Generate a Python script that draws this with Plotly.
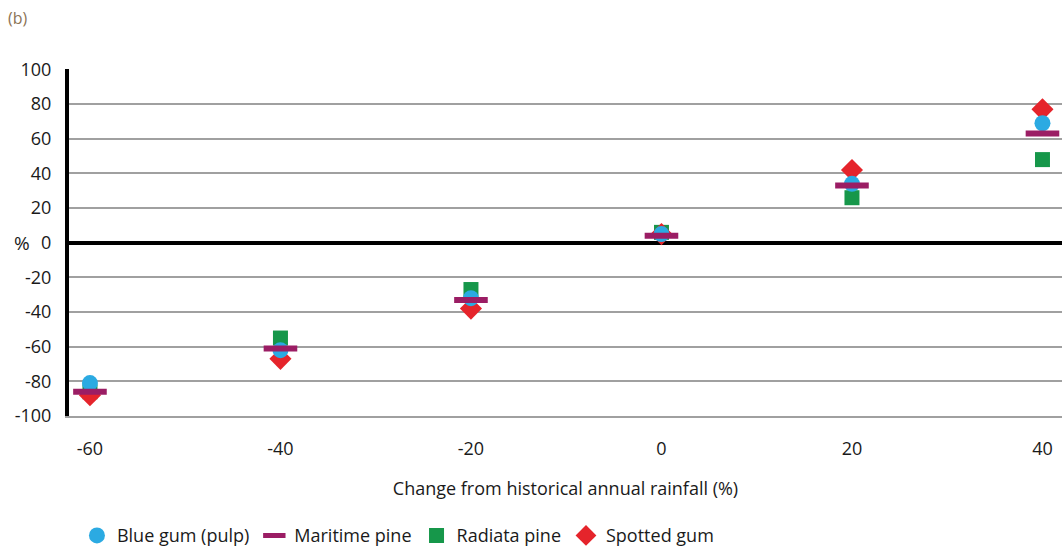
import plotly.graph_objects as go

rainfall_change = [-60, -40, -20, 0, 20, 40]
blue_gum = [-81, -62, -32, 5, 34, 69]
maritime_pine = [-86, -61, -33, 4, 33, 63]
radiata_pine = [-86, -55, -27, 6, 26, 48]
spotted_gum = [-88, -67, -38, 5, 42, 77]

y_ticks = [-100, -80, -60, -40, -20, 0, 20, 40, 60, 80, 100]
x_ticks = [-60, -40, -20, 0, 20, 40]

FONT = "Open Sans"
fig = go.Figure()

# draw order: square, diamond, bar, circle
fig.add_trace(go.Scatter(x=rainfall_change, y=radiata_pine, mode="markers", name="Radiata pine",
                         legendrank=3,
                         marker=dict(symbol="square", size=15, color="#16974A")))
fig.add_trace(go.Scatter(x=rainfall_change, y=spotted_gum, mode="markers", name="Spotted gum",
                         legendrank=4,
                         marker=dict(symbol="diamond", size=17, color="#E5242B")))
fig.add_trace(go.Scatter(x=rainfall_change, y=blue_gum, mode="markers", name="Blue gum (pulp)",
                         legendrank=1,
                         marker=dict(symbol="circle", size=16, color="#2BAAE2")))
fig.add_trace(go.Scatter(x=rainfall_change, y=maritime_pine, mode="markers", name="Maritime pine",
                         legendrank=2,
                         marker=dict(symbol="line-ew", size=24, color="#9B1D64",
                                     line=dict(width=6, color="#9B1D64"))))

fig.update_layout(
    width=1062, height=551,
    margin=dict(l=69, r=0, t=69, b=135, autoexpand=False),
    paper_bgcolor="white", plot_bgcolor="white",
    font=dict(family=FONT, size=18, color="#1a1a1a"),
    showlegend=True,
    legend=dict(orientation="h", x=0.008, xanchor="left", y=-0.345, yanchor="middle",
                font=dict(size=18, color="#1a1a1a"), itemwidth=30,
                traceorder="normal"),
    xaxis=dict(range=[-62.2, 42.05], tickvals=x_ticks, ticktext=[str(v) for v in x_ticks],
               showgrid=False, zeroline=False, showline=True, linecolor="#A0A0A0", linewidth=2,
               ticks="", ticklabelstandoff=15,
               title=dict(text="Change from historical annual rainfall (%)", standoff=24,
                          font=dict(size=18, color="#1a1a1a"))),
    yaxis=dict(range=[-100, 100.3], tickvals=y_ticks, ticktext=[str(v) for v in y_ticks],
               showgrid=True, gridcolor="#A0A0A0", gridwidth=2,
               zeroline=True, zerolinecolor="black", zerolinewidth=4,
               showline=True, linecolor="black", linewidth=4,
               ticks="", ticklabelstandoff=10),
    annotations=[
        dict(text="(b)", x=-51/993, y=1 + 51/347, xref="paper", yref="paper", showarrow=False,
             xanchor="center", yanchor="middle",
             font=dict(size=16, color="#8B7355")),
        dict(text="%", x=-47/993, y=0, xref="paper", yref="y", xanchor="center", showarrow=False,
             font=dict(size=19, color="#1a1a1a")),
    ],
)
fig.write_html("out.html")
